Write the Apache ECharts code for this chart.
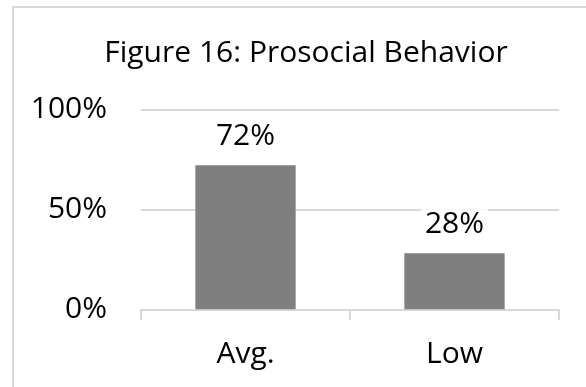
<!DOCTYPE html>
<html>
<head>
<meta charset="utf-8">
<script src="https://cdn.jsdelivr.net/npm/echarts@6/dist/echarts.min.js"></script>
<style>
html,body{margin:0;padding:0;background:#fff;}
#chart{width:586px;height:387px;}
</style>
</head>
<body>
<div id="chart"></div>
<script>
const titleText = "Figure 16: Prosocial Behavior";
const categories = ["Avg.", "Low"];
const values = [72, 28];
const yTicks = [0, 50, 100];

const FONT = "Open Sans";
const chart = echarts.init(document.getElementById('chart'), null, {renderer: 'canvas'});
chart.setOption({
  animation: false,
  backgroundColor: '#ffffff',
  graphic: [{
    type: 'rect',
    shape: {x: 13, y: 7, width: 620, height: 420},
    style: {fill: 'none', stroke: '#d9d9d9', lineWidth: 2},
    silent: true
  }],
  title: {
    text: titleText,
    left: 301,
    top: 33,
    textAlign: 'center',
    textStyle: {fontFamily: FONT, fontSize: 30, fontWeight: 'normal', color: '#000'}
  },
  grid: {left: 141, right: 27, top: 109.3, bottom: 77.7, containLabel: false},
  xAxis: {
    type: 'category',
    data: categories,
    axisLine: {show: true, lineStyle: {color: '#d9d9d9', width: 2}},
    axisTick: {show: true, length: 11, lineStyle: {color: '#d9d9d9', width: 2}},
    axisLabel: {fontFamily: FONT, fontSize: 30, color: '#000', margin: 30}
  },
  yAxis: {
    type: 'value',
    min: yTicks[0],
    max: yTicks[yTicks.length - 1],
    interval: yTicks[1] - yTicks[0],
    axisLine: {show: false},
    axisTick: {show: false},
    splitLine: {show: true, lineStyle: {color: '#d9d9d9', width: 2}},
    axisLabel: {fontFamily: FONT, fontSize: 30, color: '#000', margin: 34, formatter: '{value}%'}
  },
  series: [{
    type: 'bar',
    data: values,
    barWidth: '48%',
    itemStyle: {color: '#7f7f7f'},
    label: {
      show: true,
      position: 'top',
      distance: 14,
      formatter: '{c}%',
      fontFamily: FONT,
      fontSize: 30,
      color: '#000',
      backgroundColor: '#fff',
      padding: [0, 4]
    }
  }]
});
</script>
</body>
</html>
